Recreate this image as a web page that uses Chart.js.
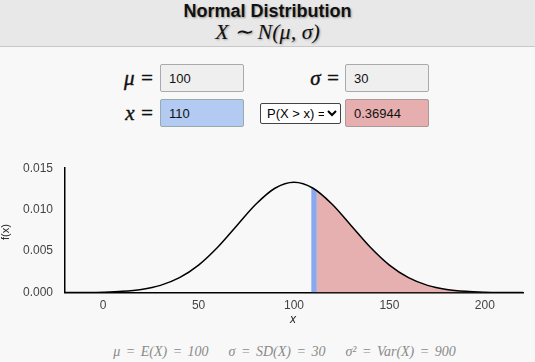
<!DOCTYPE html>
<html>
<head>
<meta charset="utf-8">
<script src="https://cdn.jsdelivr.net/npm/chart.js@4"></script>
<style>
  body { margin: 0; width: 535px; height: 362px; background: #f8f8f8; font-family: Arial, "Liberation Sans", sans-serif; position: relative; overflow: hidden; }
  #header { position: absolute; left: 0; top: 0; width: 535px; height: 46px; background: #e8e8e8; border-bottom: 1px solid #c8c8c8; text-align: center; }
  #title { font-weight: bold; font-size: 18px; color: #111; margin-top: 2px; line-height: 18px; text-shadow: 1px 1px 2px rgba(0,0,0,0.35); }
  #subtitle { font-family: "Liberation Serif", serif; font-style: italic; font-size: 22px; line-height: 24px; color: #111; text-shadow: 1px 1px 2px rgba(0,0,0,0.3); }
  .lbl { position: absolute; font-family: "Liberation Serif", serif; font-style: italic; font-size: 21px; color: #111; text-align: right; width: 50px; -webkit-text-stroke: 0.4px #111; }
  .box { position: absolute; box-sizing: border-box; width: 84px; height: 28px; border: 1px solid #aaa; border-radius: 2px; background: #efefef; font-size: 13px; color: #111; padding: 6px 0 0 8px; }
  select { position: absolute; left: 260px; top: 103px; width: 81px; height: 21px; font-size: 13px; font-family: Arial, sans-serif; border: 1px solid #444; border-radius: 2px; background: #fff; padding: 0 0 0 2px; }
  #wrap { position: absolute; left: 0; top: 149px; width: 535px; height: 170px; }
  #ylab { position: absolute; left: 0; top: 222px; width: 18px; height: 20px; font-size: 11px; color: #222; transform: rotate(-90deg); text-align: center; }
  #xlab { position: absolute; left: 290px; top: 312px; font-size: 12px; font-style: italic; color: #222; }
  #foot { position: absolute; left: 17px; top: 344px; width: 535px; text-align: center; font-family: "Liberation Serif", serif; font-style: italic; font-size: 14px; color: #8a8a8a; word-spacing: 2px; }
  #foot span { margin: 0 10px; }
</style>
</head>
<body>
<div id="header">
  <div id="title">Normal Distribution</div>
  <div id="subtitle">X ∼ N(μ, σ)</div>
</div>

<div class="lbl" style="left:104px; top:66px;">μ =</div>
<div class="box" style="left:160px; top:64px;">100</div>
<div class="lbl" style="left:290px; top:66px;">σ =</div>
<div class="box" style="left:345px; top:64px;">30</div>
<div class="lbl" style="left:104px; top:101px;">x =</div>
<div class="box" style="left:160px; top:99px; background:#b3cbf3; border-color:#9aa;">110</div>
<select><option>P(X &gt; x) =</option></select>
<div class="box" style="left:345px; top:99px; background:#e6aeae; border-color:#a99;">0.36944</div>

<div id="wrap"><canvas id="chart"></canvas></div>
<div id="ylab">f(x)</div>
<div id="xlab">x</div>
<div id="foot"><span>μ = E(X) = 100</span><span>σ = SD(X) = 30</span><span>σ² = Var(X) = 900</span></div>

<script>
// density curve, every 10 units
const xs = [-20, -10, 0, 10, 20, 30, 40, 50, 60, 70, 80, 90, 100, 110, 120, 130, 140, 150, 160, 170, 180, 190, 200, 210, 220];
const ys = [0.000004, 0.000016, 0.000051, 0.000148, 0.00038, 0.000874, 0.0018, 0.003317, 0.005467, 0.008066, 0.010648, 0.01258, 0.013298,
            0.01258, 0.010648, 0.008066, 0.005467, 0.003317, 0.0018, 0.000874, 0.00038, 0.000148, 0.000051, 0.000016, 0.000004];

// marker strip around x = 110
const markX = [109, 112];
const markY = [0.012713, 0.012276];

// upper tail P(X > x)
const tailX = [112, 120, 130, 140, 150, 160, 170, 180, 190, 200, 210, 220];
const tailY = [0.012276, 0.010648, 0.008066, 0.005467, 0.003317, 0.0018, 0.000874, 0.00038, 0.000148, 0.000051, 0.000016, 0.000004];

const xTicks = [0, 50, 100, 150, 200];

function pts(a, b) {
    return a.map((v, i) => ({ x: v, y: b[i] }));
}

new Chart(document.getElementById('chart'), {
    type: 'line',
    data: {
        datasets: [
            {
                data: pts(xs, ys),
                borderColor: '#000',
                borderWidth: 1.5,
                pointRadius: 0,
                fill: false,
                cubicInterpolationMode: 'monotone',
                order: 0
            },
            {
                data: pts(tailX, tailY),
                borderWidth: 0,
                borderColor: 'rgba(0,0,0,0)',
                backgroundColor: '#e6b0b0',
                pointRadius: 0,
                fill: 'origin',
                cubicInterpolationMode: 'monotone',
                order: 2
            },
            {
                data: pts(markX, markY),
                borderWidth: 0,
                borderColor: 'rgba(0,0,0,0)',
                backgroundColor: '#89a9ec',
                pointRadius: 0,
                fill: 'origin',
                order: 1
            }
        ]
    },
    options: {
        animation: false,
        responsive: true,
        maintainAspectRatio: false,
        layout: { padding: { top: 6, right: 12, left: 0, bottom: 0 } },
        plugins: { legend: { display: false }, tooltip: { enabled: false } },
        scales: {
            x: {
                type: 'linear',
                min: -20,
                max: 220,
                grid: { display: false, drawTicks: false },
                border: { display: true, color: '#000', width: 1.5 },
                afterBuildTicks: axis => { axis.ticks = xTicks.map(v => ({ value: v })); },
                ticks: { color: '#444', font: { size: 12, family: 'Arial' }, padding: 6 }
            },
            y: {
                min: 0,
                max: 0.015,
                grid: { display: false, drawTicks: false },
                border: { display: true, color: '#000', width: 1.5 },
                afterFit: axis => { axis.width = 65; },
                ticks: {
                    stepSize: 0.005,
                    color: '#444',
                    font: { size: 12, family: 'Arial' },
                    padding: 12,
                    callback: v => v.toFixed(3)
                }
            }
        }
    }
});
</script>
</body>
</html>
